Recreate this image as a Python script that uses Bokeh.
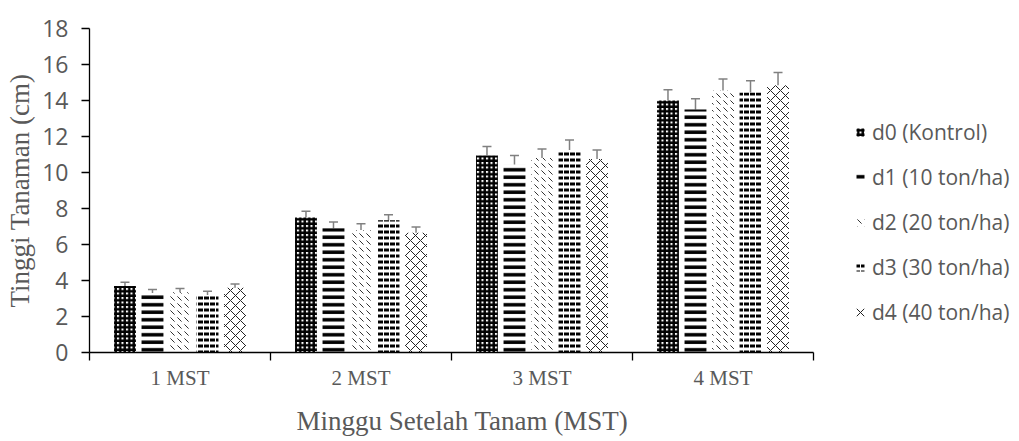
from bokeh.plotting import figure
from bokeh.models import (ColumnDataSource, Range1d, LinearAxis, FixedTicker, Whisker,
                          TeeHead, Legend, LegendItem, Title)
from bokeh.embed import file_html
from bokeh.resources import INLINE

categories = ["1 MST", "2 MST", "3 MST", "4 MST"]
series = ["d0 (Kontrol)", "d1 (10 ton/ha)", "d2 (20 ton/ha)", "d3 (30 ton/ha)", "d4 (40 ton/ha)"]
d0 = [3.7, 7.5, 10.95, 14.0]
d1 = [3.3, 6.9, 10.45, 13.5]
d2 = [3.35, 6.8, 10.8, 14.55]
d3 = [3.2, 7.35, 11.25, 14.45]
d4 = [3.6, 6.65, 10.75, 14.85]
e0 = [0.2, 0.35, 0.5, 0.6]
e1 = [0.2, 0.35, 0.5, 0.6]
e2 = [0.2, 0.35, 0.5, 0.65]
e3 = [0.2, 0.3, 0.55, 0.65]
e4 = [0.2, 0.32, 0.5, 0.7]
yticks = [0, 2, 4, 6, 8, 10, 12, 14, 16, 18]

values = [d0, d1, d2, d3, d4]
errors = [e0, e1, e2, e3, e4]

GRAY = "#595959"
SANS = "Open Sans"
SERIF = "Liberation Serif"

N = len(categories)
CAT_PX = 724.0           # pixel width of the category area
FRAME_W = 927            # frame extends right to hold the legend
x_end = N * FRAME_W / CAT_PX

p = figure(frame_width=FRAME_W, frame_height=324, output_backend="svg", toolbar_location=None,
           x_range=Range1d(0, x_end), y_range=Range1d(0, 18), x_axis_type=None,
           min_border_left=89, min_border_right=1, min_border_top=28, min_border_bottom=4)
p.outline_line_color = None
p.xgrid.visible = False
p.ygrid.visible = False
p.background_fill_color = "white"

styles = [
    dict(fill_color="white", hatch_pattern="cross", hatch_color="black", hatch_scale=4.5, hatch_weight=2.4),
    dict(fill_color="white", hatch_pattern="horizontal_line", hatch_color="black", hatch_scale=7.5, hatch_weight=3.5),
    dict(fill_color="white", hatch_pattern="left_diagonal_dash", hatch_color="#333333", hatch_scale=7, hatch_weight=1),
    dict(fill_color="white", hatch_pattern="horizontal_dash", hatch_color="black", hatch_scale=6, hatch_weight=3),
    dict(fill_color="white", hatch_pattern="diagonal_cross", hatch_color="#222222", hatch_scale=10, hatch_weight=1),
]

bar_w = 0.121
step = 0.152
items = []
for j, (vals, errs) in enumerate(zip(values, errors)):
    xs = [i + 0.5 + (j - 2) * step for i in range(N)]
    src = ColumnDataSource(dict(x=xs, top=vals,
                                upper=[v + e for v, e in zip(vals, errs)],
                                lower=[v - e for v, e in zip(vals, errs)]))
    r = p.vbar(x="x", top="top", bottom=0, width=bar_w, source=src, line_color=None, **styles[j])
    items.append(LegendItem(label=series[j], renderers=[r]))
    w = Whisker(source=src, base="x", upper="upper", lower="lower",
                line_color="#808080", line_width=1.5,
                upper_head=TeeHead(size=9, line_color="#808080", line_width=1.5),
                lower_head=TeeHead(size=9, line_color="#808080", line_width=1.5))
    p.add_layout(w)

# y axis
ya = p.yaxis[0]
ya.ticker = FixedTicker(ticks=yticks)
ya.axis_label = "Tinggi Tanaman (cm)"
ya.axis_label_text_font = SERIF
ya.axis_label_text_font_style = "normal"
ya.axis_label_text_font_size = "27px"
ya.axis_label_text_color = GRAY
ya.axis_label_standoff = 4
ya.major_label_text_font = SANS
ya.major_label_text_font_size = "23px"
ya.major_label_text_color = GRAY
ya.major_label_standoff = 13
ya.major_tick_out = 8
ya.major_tick_in = 0
ya.minor_tick_out = 0
ya.minor_tick_in = 0
ya.axis_line_color = "black"
ya.axis_line_width = 1.3
ya.major_tick_line_color = "black"
ya.major_tick_line_width = 1.3

# x axis (restricted to the category area)
centers = [i + 0.5 for i in range(N)]
bounds = [float(i) for i in range(N + 1)]
xa = LinearAxis(ticker=FixedTicker(ticks=centers, minor_ticks=bounds), bounds=(0, N))
xa.major_label_overrides = {c: lab for c, lab in zip(centers, categories)}
xa.major_label_text_font = SERIF
xa.major_label_text_font_size = "21px"
xa.major_label_text_color = GRAY
xa.major_label_standoff = 5
xa.major_tick_out = 0
xa.major_tick_in = 0
xa.minor_tick_out = 8
xa.minor_tick_in = 0
xa.minor_tick_line_color = "black"
xa.minor_tick_line_width = 1.3
xa.axis_line_color = "black"
xa.axis_line_width = 1.3
p.add_layout(xa, "below")

xt = Title(text="Minggu Setelah Tanam (MST)", align="left", offset=207,
           text_font=SERIF, text_font_style="normal", text_font_size="27px",
           text_color=GRAY, standoff=23)
p.add_layout(xt, "below")

legend = Legend(items=items, location=(766, 26), orientation="vertical",
                border_line_color=None, background_fill_alpha=0,
                padding=0, margin=0, spacing=17, label_height=24,
                glyph_width=10, glyph_height=10, label_standoff=7,
                label_text_font=SANS, label_text_font_size="21px",
                label_text_color=GRAY, label_text_baseline="middle")
p.add_layout(legend, "center")

open("out.html", "w").write(file_html(p, INLINE))
